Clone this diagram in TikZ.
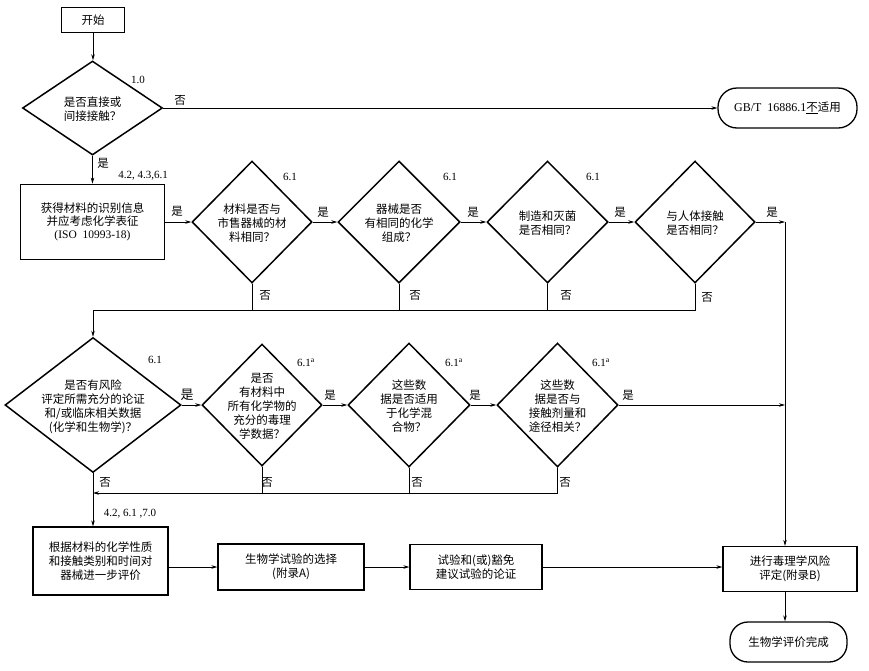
\documentclass[tikz,border=0pt]{standalone}
\usepackage{fontspec}
\setmainfont{Liberation Serif}
\newfontfamily\cjk{Noto Sans CJK SC}
\usetikzlibrary{shapes.geometric,arrows.meta}
\newcommand{\dtext}[1]{\makebox[0pt]{\smash{\raisebox{-6pt}{\begin{tabular}{@{}c@{}}#1\end{tabular}}}}}
\begin{document}
\begin{tikzpicture}[x=1pt,y=-1pt,
  every node/.style={font=\cjk\fontsize{11.5}{14}\selectfont},
  dia/.style={diamond, draw, line width=1.5pt, inner sep=0pt},
  box/.style={draw, line width=1.3pt, align=center, inner sep=0pt},
  term/.style={draw, line width=1.3pt, rounded corners=19pt, align=center, inner sep=0pt},
  arr/.style={-{Stealth[length=6pt,width=3.5pt]}, line width=0.7pt},
  ln/.style={line width=0.7pt},
  num/.style={font=\rmfamily\fontsize{11}{12}\selectfont, inner sep=0pt},
  lab/.style={inner sep=0pt}]
\path[use as bounding box] (0,0) rectangle (869,670);

% nodes
\node[box, line width=1.5pt, minimum width=63pt, minimum height=25pt] (start) at (93,20) {开始};
\node[dia, minimum width=140pt, minimum height=94pt] (d1) at (92.5,108) {\dtext{是否直接或\\间接接触？}};
\node[term, minimum width=139pt, minimum height=40pt] (gbt) at (787.5,108) {{\rmfamily\fontsize{12}{14}\selectfont GB/T\ \ 16886.1}\underline{不}适用};

\node[box, line width=1.8pt, minimum width=144pt, minimum height=75pt, font=\cjk\fontsize{11.5}{13}\selectfont] (b2) at (92.5,222) {获得材料的识别信息\\并应考虑化学表征\\{\rmfamily (ISO\ \ 10993-18)}};
\node[dia, minimum width=120pt, minimum height=122pt] (d2) at (252,222) {\dtext{材料是否与\\市售器械的材\\料相同？}};
\node[dia, minimum width=122pt, minimum height=122pt] (d3) at (399,222) {\dtext{器械是否\\有相同的化学\\组成？}};
\node[dia, minimum width=121pt, minimum height=122pt] (d4) at (547.5,222) {\dtext{制造和灭菌\\是否相同？}};
\node[dia, minimum width=120pt, minimum height=122pt] (d5) at (695,222) {\dtext{与人体接触\\是否相同？}};

\node[dia, minimum width=176pt, minimum height=135pt] (d6) at (93,405) {\dtext{是否有风险\\评定所需充分的论证\\和/或临床相关数据\\(化学和生物学)？}};
\node[dia, minimum width=120pt, minimum height=122pt] (d7) at (262,405) {\dtext{是否\\有材料中\\所有化学物的\\充分的毒理\\学数据？}};
\node[dia, minimum width=122pt, minimum height=124pt] (d8) at (409,405) {\dtext{这些数\\据是否适用\\于化学混\\合物？}};
\node[dia, minimum width=121pt, minimum height=124pt] (d9) at (557.5,405) {\dtext{这些数\\据是否与\\接触剂量和\\途径相关？}};

\node[box, minimum width=135pt, minimum height=68pt] (b3) at (100.5,561) {根据材料的化学性质\\和接触类别和时间对\\器械进一步评价};
\node[box, minimum width=146pt, minimum height=46pt] (b4) at (291,567) {生物学试验的选择\\(附录A)};
\node[box, minimum width=132pt, minimum height=45pt] (b5) at (476,567) {试验和(或)豁免\\建议试验的论证};
\node[box, minimum width=134pt, minimum height=45pt] (b6) at (790,569) {进行毒理学风险\\评定(附录B)};
\node[term, minimum width=117pt, minimum height=40pt, rounded corners=18pt] (end) at (788.5,642) {生物学评价完成};

\coordinate (c1) at (785,222);
\coordinate (c2) at (785,405);
\coordinate (j1) at (93,310);
\coordinate (j2) at (93,493);

% connectors
\draw[arr] (start) -- (start |- d1.north);
\draw[arr] (d1.east) -- (gbt.west);
\draw[arr] (d1.south) -- (b2.north);
\draw[arr] (b2.east) -- (d2.west);
\draw[arr] (d2.east) -- (d3.west);
\draw[arr] (d3.east) -- (d4.west);
\draw[arr] (d4.east) -- (d5.west);
\draw[arr] (d5.east) -- (c1);
\draw[arr] (c1) -- (c1 |- b6.north);
\draw[ln] (d2.south) -- (d2.south |- j1);
\draw[ln] (d3.south) -- (d3.south |- j1);
\draw[ln] (d4.south) -- (d4.south |- j1);
\draw[ln] (d5.south) -- (d5.south |- j1) -- (j1);
\draw[arr] (j1) -- (d6.north);
\draw[arr] (d6.east) -- (d7.west);
\draw[arr] (d7.east) -- (d8.west);
\draw[arr] (d8.east) -- (d9.west);
\draw[arr] (d9.east) -- (c2);
\draw[ln] (d7.south) -- (d7.south |- j2);
\draw[ln] (d8.south) -- (d8.south |- j2);
\draw[arr] (d9.south) -- (d9.south |- j2) -- (j2);
\draw[arr] (d6.south) -- (d6.south |- b3.north);
\draw[arr] (b3.east |- b4.west) -- (b4.west);
\draw[arr] (b4.east) -- (b5.west);
\draw[arr] (b5.east) -- (b5.east -| b6.west);
\draw[arr] (c1 |- b6.south) -- (c1 |- end.north);

% labels
\node[num] (l10) at (138,80) {1.0};
\node[lab] (n1) at (180,100) {否};
\node[lab] (y1) at (103,163) {是};
\node[num] (r1) at (143,176) {4.2, 4.3,6.1};
\node[lab] (y2) at (177,211) {是};
\node[num] (s2) at (290,177) {6.1};
\node[num] (s3) at (450,177) {6.1};
\node[num] (s4) at (593,177) {6.1};
\node[lab] (y3) at (323,212) {是};
\node[lab] (y4) at (473,212) {是};
\node[lab] (y5) at (620,212) {是};
\node[lab] (y6) at (772,212) {是};
\node[lab] (n2) at (265,295) {否};
\node[lab] (n3) at (415,295) {否};
\node[lab] (n4) at (566,295) {否};
\node[lab] (n5) at (707,297) {否};
\node[num] (s6) at (155,360) {6.1};
\node[num] (s7) at (306,363) {6.1\textsuperscript{a}};
\node[num] (s8) at (454,363) {6.1\textsuperscript{a}};
\node[num] (s9) at (601,363) {6.1\textsuperscript{a}};
\node[lab, font=\cjk\fontsize{13}{14}\selectfont] (y7) at (187,395) {是};
\node[lab] (y8) at (330,395) {是};
\node[lab] (y9) at (475,395) {是};
\node[lab] (y10) at (628,395) {是};
\node[lab] (n6) at (105,482) {否};
\node[lab] (n7) at (267,482) {否};
\node[lab] (n8) at (417,482) {否};
\node[lab] (n9) at (565,482) {否};
\node[num] (r2) at (130,514) {4.2, 6.1 ,7.0};
\end{tikzpicture}
\end{document}
